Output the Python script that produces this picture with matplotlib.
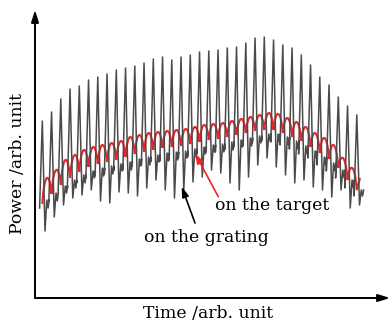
import numpy as np
import matplotlib
matplotlib.use("Agg")
import matplotlib.pyplot as plt
from matplotlib.path import Path
from matplotlib.patches import PathPatch

# time of each sharp peak of the grating signal (arb. unit)
peak_t = np.linspace(7.3, 321.8, 35)

# signal on the grating, per cycle: peak top, deep trough, mid level, small dip
grat_peak = [177, 186, 199, 209, 212, 218, 221, 224, 228, 230, 232, 235, 239, 241, 238,
             241, 243, 246, 247, 248, 250, 251, 255, 260, 261, 258, 253, 250, 243, 233,
             221, 213, 201, 192, 183]
grat_trough = [67, 81, 93, 100, 103, 108, 97, 95, 106, 105, 102, 110, 118, 108, 100,
               108, 116, 121, 128, 125, 115, 108, 121, 133, 140, 131, 123, 115, 118, 111,
               108, 101, 108, 90, 93]
grat_mid = [98, 105, 112, 118, 123, 127, 130, 132, 134, 136, 139, 141, 143, 145, 146,
            147, 149, 151, 153, 154, 156, 158, 160, 162, 164, 164, 161, 157, 152, 147,
            141, 135, 128, 118, 108]
grat_dip = [90, 97, 105, 110, 115, 120, 122, 124, 127, 128, 132, 133, 136, 137, 138,
            140, 141, 144, 146, 146, 148, 151, 152, 155, 157, 156, 153, 149, 144, 140,
            133, 127, 120, 110, 102]

# signal on the target: minima (at the grating peaks) and hump tops in between
targ_low = [94, 104, 113, 120, 126, 131, 134, 136, 138, 141, 144, 146, 148, 150, 151,
            152, 154, 156, 158, 159, 161, 163, 165, 167, 168, 168, 165, 161, 157, 151,
            145, 139, 130, 118, 108]
targ_top = [120, 128, 138, 143, 148, 151, 153, 155, 157, 161, 163, 165, 166, 167, 168,
            169, 171, 173, 174, 175, 177, 179, 181, 183, 185, 184, 180, 176, 171, 165,
            160, 153, 140, 130]
targ_end = (325.0, 120)

fig = plt.figure(figsize=(3.92, 3.27), dpi=100)
ax = fig.add_axes([35 / 392, 29 / 327, 355 / 392, 288 / 327])
ax.set_xlim(0, 355)
ax.set_ylim(0, 288)
ax.axis("off")

# grating trace
offs = [-2.7, 0.0, 2.7, 4.5, 5.8, 6.8]
xs, ys = [], []
for k, t in enumerate(peak_t):
    vals = [grat_dip[k], grat_peak[k], grat_trough[k], grat_mid[k], grat_dip[k], grat_mid[k]]
    for o, v in zip(offs, vals):
        xs.append(t + o)
        ys.append(v)
ax.plot(xs, ys, color="#4a4a4a", lw=1.1, solid_joinstyle="round")

# target trace: rounded humps between cusps
verts = [(peak_t[0], targ_low[0])]
codes = [Path.MOVETO]
for k in range(len(targ_top)):
    x0, y0 = peak_t[k], targ_low[k]
    x1, y1 = peak_t[k + 1], targ_low[k + 1]
    d = x1 - x0
    c = (targ_top[k] - 0.125 * (y0 + y1)) / 0.75
    verts += [(x0 + 0.22 * d, c), (x1 - 0.22 * d, c), (x1, y1)]
    codes += [Path.CURVE4] * 3
verts.append(targ_end)
codes.append(Path.LINETO)
ax.add_patch(PathPatch(Path(verts, codes), fill=False, edgecolor="#e8262a", lw=1.5))

# axes with arrows
ax.annotate("", xy=(0, 1), xytext=(0, 0), xycoords="axes fraction",
            arrowprops=dict(arrowstyle="-|>,head_length=0.7,head_width=0.22", color="black", lw=1.4,
                            shrinkA=0, shrinkB=0))
ax.annotate("", xy=(1, 0), xytext=(0, 0), xycoords="axes fraction",
            arrowprops=dict(arrowstyle="-|>,head_length=0.7,head_width=0.22", color="black", lw=1.4,
                            shrinkA=0, shrinkB=0))

font = dict(family="DejaVu Serif", fontsize=12.4)
ax.annotate("", xy=(146.7, 111.3), xytext=(160, 75),
            arrowprops=dict(arrowstyle="-|>,head_length=0.6,head_width=0.2", color="black", lw=1.2,
                            shrinkA=0, shrinkB=0))
ax.annotate("", xy=(160, 144.7), xytext=(183.3, 101.3),
            arrowprops=dict(arrowstyle="-|>,head_length=0.6,head_width=0.2", color="#e8262a", lw=1.2,
                            shrinkA=0, shrinkB=0))
ax.text(237, 92, "on the target", ha="center", va="center", **font)
ax.text(171, 60, "on the grating", ha="center", va="center", **font)

fig.text(208 / 392, 1 - 313 / 327, "Time /arb. unit", ha="center", va="center", **font)
fig.text(18 / 392, 1 - 163 / 327, "Power /arb. unit", ha="center", va="center", rotation=90, **font)

fig.savefig("out.png", dpi=100)
